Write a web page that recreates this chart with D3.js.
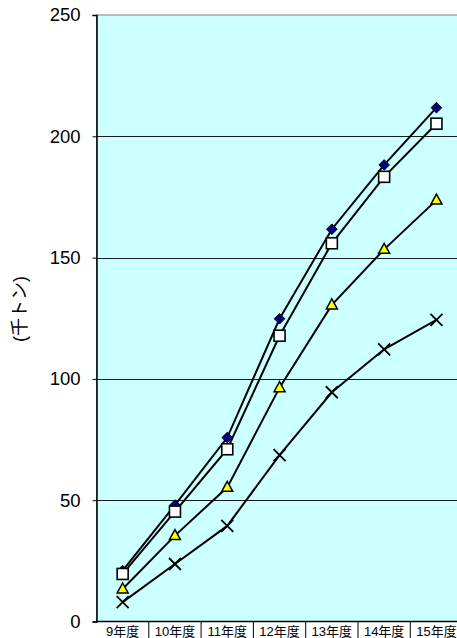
<!DOCTYPE html>
<html>
<head>
<meta charset="utf-8">
<script src="https://cdn.jsdelivr.net/npm/d3@7"></script>
<style>
html,body{margin:0;padding:0;background:#fff;overflow:hidden;}
svg{display:block;}
</style>
</head>
<body>
<script>
const categories = ["9年度","10年度","11年度","12年度","13年度","14年度","15年度"];
const seriesDiamond = [21, 48, 75.8, 124.8, 161.7, 188.2, 211.8];
const seriesSquare = [19.6, 45.3, 71, 117.8, 155.9, 183.3, 205.2];
const seriesTriangle = [13.4, 35.4, 55.3, 96.4, 130.5, 153.4, 173.7];
const seriesCross = [8, 23.7, 39.4, 68.6, 94.5, 112.2, 124.3];
const yTicks = [0, 50, 100, 150, 200, 250];
const yTitle = "(千トン)";

(function () {
const W = 457, H = 638;
const pL = 96.5, pR = 462.6, pT = 15, pB = 621.5;

const svg = d3.select("body").append("svg").attr("width", W).attr("height", H);

const x = d3.scaleBand().domain(categories).range([pL, pR]).padding(0);
const y = d3.scaleLinear().domain([0, 250]).range([pB, pT]);
const cx = d => x(d) + x.bandwidth() / 2;

// plot area
svg.append("rect").attr("x", pL).attr("y", pT).attr("width", pR - pL).attr("height", pB - pT)
  .attr("fill", "#CCFFFF").attr("stroke", "#808080").attr("stroke-width", 1);

// gridlines
svg.append("g").selectAll("line").data(yTicks.filter(t => t > 0 && t < 250)).join("line")
  .attr("x1", pL).attr("x2", pR).attr("y1", d => Math.round(y(d)) + 0.5).attr("y2", d => Math.round(y(d)) + 0.5)
  .attr("stroke", "#1a1a1a").attr("stroke-width", 1);

// y axis
const yAxis = d3.axisLeft(y).tickValues(yTicks).tickSize(4).tickPadding(12).tickFormat(d3.format("d"));
const ya = svg.append("g").attr("transform", `translate(${pL},0)`).call(yAxis);
ya.select(".domain").attr("stroke", "#000").attr("stroke-width", 1.5);
ya.selectAll(".tick line").attr("stroke", "#000");
ya.selectAll(".tick text").attr("font-family", "Liberation Sans, Arial, sans-serif").attr("font-size", 18.5).attr("fill", "#000");

// x axis (category row with separators)
const xa = svg.append("g");
xa.append("line").attr("x1", pL).attr("x2", pR).attr("y1", pB).attr("y2", pB).attr("stroke", "#000").attr("stroke-width", 1.5);
xa.selectAll("line.sep").data(categories.slice(1)).join("line").attr("class", "sep")
  .attr("x1", d => x(d)).attr("x2", d => x(d)).attr("y1", pB).attr("y2", H)
  .attr("stroke", "#000").attr("stroke-width", 1);
xa.selectAll("text").data(categories).join("text")
  .attr("x", d => cx(d)).attr("y", 636).attr("text-anchor", "middle")
  .attr("font-family", "Liberation Sans, Arial, Noto Sans CJK JP, sans-serif").attr("font-size", 13).attr("fill", "#000")
  .text(d => d);

// y title
svg.append("text").attr("transform", `translate(26,309) rotate(-90)`).attr("text-anchor", "middle")
  .attr("font-family", "Liberation Sans, Arial, Noto Sans CJK JP, sans-serif").attr("font-size", 18).attr("fill", "#000")
  .text(yTitle);

const line = d3.line().x((d, i) => cx(categories[i])).y(d => y(d));

const series = [
  {vals: seriesCross, marker: "cross"},
  {vals: seriesTriangle, marker: "triangle"},
  {vals: seriesDiamond, marker: "diamond"},
  {vals: seriesSquare, marker: "square"}
];

const lg = svg.append("g");
series.forEach(s => {
  lg.append("path").attr("d", line(s.vals)).attr("fill", "none").attr("stroke", "#000").attr("stroke-width", 2);
});

const mg = svg.append("g");
series.forEach(s => {
  const g = mg.append("g");
  s.vals.forEach((v, i) => {
    const px = cx(categories[i]), py = y(v);
    if (s.marker === "diamond") {
      g.append("path").attr("d", `M${px},${py-5.3}L${px+5.3},${py}L${px},${py+5.3}L${px-5.3},${py}Z`)
        .attr("fill", "#000080").attr("stroke", "#000").attr("stroke-width", 1);
    } else if (s.marker === "square") {
      g.append("rect").attr("x", px - 5.5).attr("y", py - 5.5).attr("width", 11).attr("height", 11)
        .attr("fill", "#fff").attr("stroke", "#000").attr("stroke-width", 1.6);
    } else if (s.marker === "triangle") {
      g.append("path").attr("d", `M${px},${py-6}L${px+5.5},${py+4}L${px-5.5},${py+4}Z`)
        .attr("fill", "#FFFF00").attr("stroke", "#000").attr("stroke-width", 1.5);
    } else {
      g.append("path").attr("d", `M${px-6},${py-6}L${px+6},${py+6}M${px+6},${py-6}L${px-6},${py+6}`)
        .attr("stroke", "#000").attr("stroke-width", 1.8).attr("fill", "none");
    }
  });
});
})();
</script>
</body>
</html>
